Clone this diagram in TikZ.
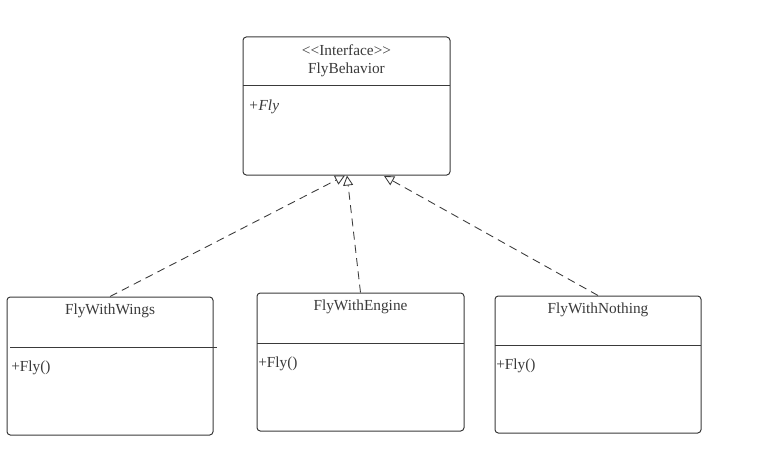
\documentclass[tikz,border=0pt]{standalone}
\usepackage{fontspec}
\setmainfont{Liberation Serif}
\usetikzlibrary{arrows.meta}
\definecolor{ink}{HTML}{3A3A3A}
\begin{document}
\begin{tikzpicture}[x=0.75pt,y=-0.75pt,
  classbox/.style={draw=ink, line width=0.75pt, rounded corners=2.5pt, inner sep=0pt},
  divider/.style={draw=ink, line width=0.75pt},
  txt/.style={text=ink, font=\fontsize{11.5pt}{13pt}\selectfont, inner sep=0pt},
  realize/.style={draw=ink, line width=0.65pt, dash pattern=on 6pt off 4pt,
    -{Triangle[open, length=7.5pt, width=7.5pt, line width=0.65pt]}}]
\useasboundingbox (0,0) rectangle (763,474);
% classes
\node[classbox, minimum width=207*0.75pt, minimum height=138*0.75pt] (top) at (346.5,106) {};
\node[classbox, minimum width=206*0.75pt, minimum height=138*0.75pt] (wings) at (110,366) {};
\node[classbox, minimum width=207*0.75pt, minimum height=138*0.75pt] (engine) at (360.5,362) {};
\node[classbox, minimum width=206*0.75pt, minimum height=137*0.75pt] (nothing) at (598,364.5) {};
% dividers
\draw[divider] (243,86) -- (450,86);
\draw[divider] (10,347) -- (217,347);
\draw[divider] (257,343) -- (464,343);
\draw[divider] (495,345) -- (701,345);
% texts
\node[txt] (stereo) at (346.5,50.5) {<\kern0pt<Interface>\kern0pt>};
\node[txt] (topname) at (346.5,69.5) {FlyBehavior};
\node[txt, anchor=west] (topop) at (248,107) {\itshape +Fly};
\node[txt] (wname) at (110,310.5) {FlyWithWings};
\node[txt, anchor=west] (wop) at (11,368) {+Fly()};
\node[txt] (ename) at (360.5,307) {FlyWithEngine};
\node[txt, anchor=west] (eop) at (258,364) {+Fly()};
\node[txt] (nname) at (598,309.5) {FlyWithNothing};
\node[txt, anchor=west] (nop) at (496,366) {+Fly()};
% connector ends
\coordinate (t1) at (345,175.5);
\coordinate (t2) at (347,175.5);
\coordinate (t3) at (384,176);
\draw[realize] (wings.north) -- (t1);
\draw[realize] (engine.north) -- (t2);
\draw[realize] (nothing.north) -- (t3);
\end{tikzpicture}
\end{document}
